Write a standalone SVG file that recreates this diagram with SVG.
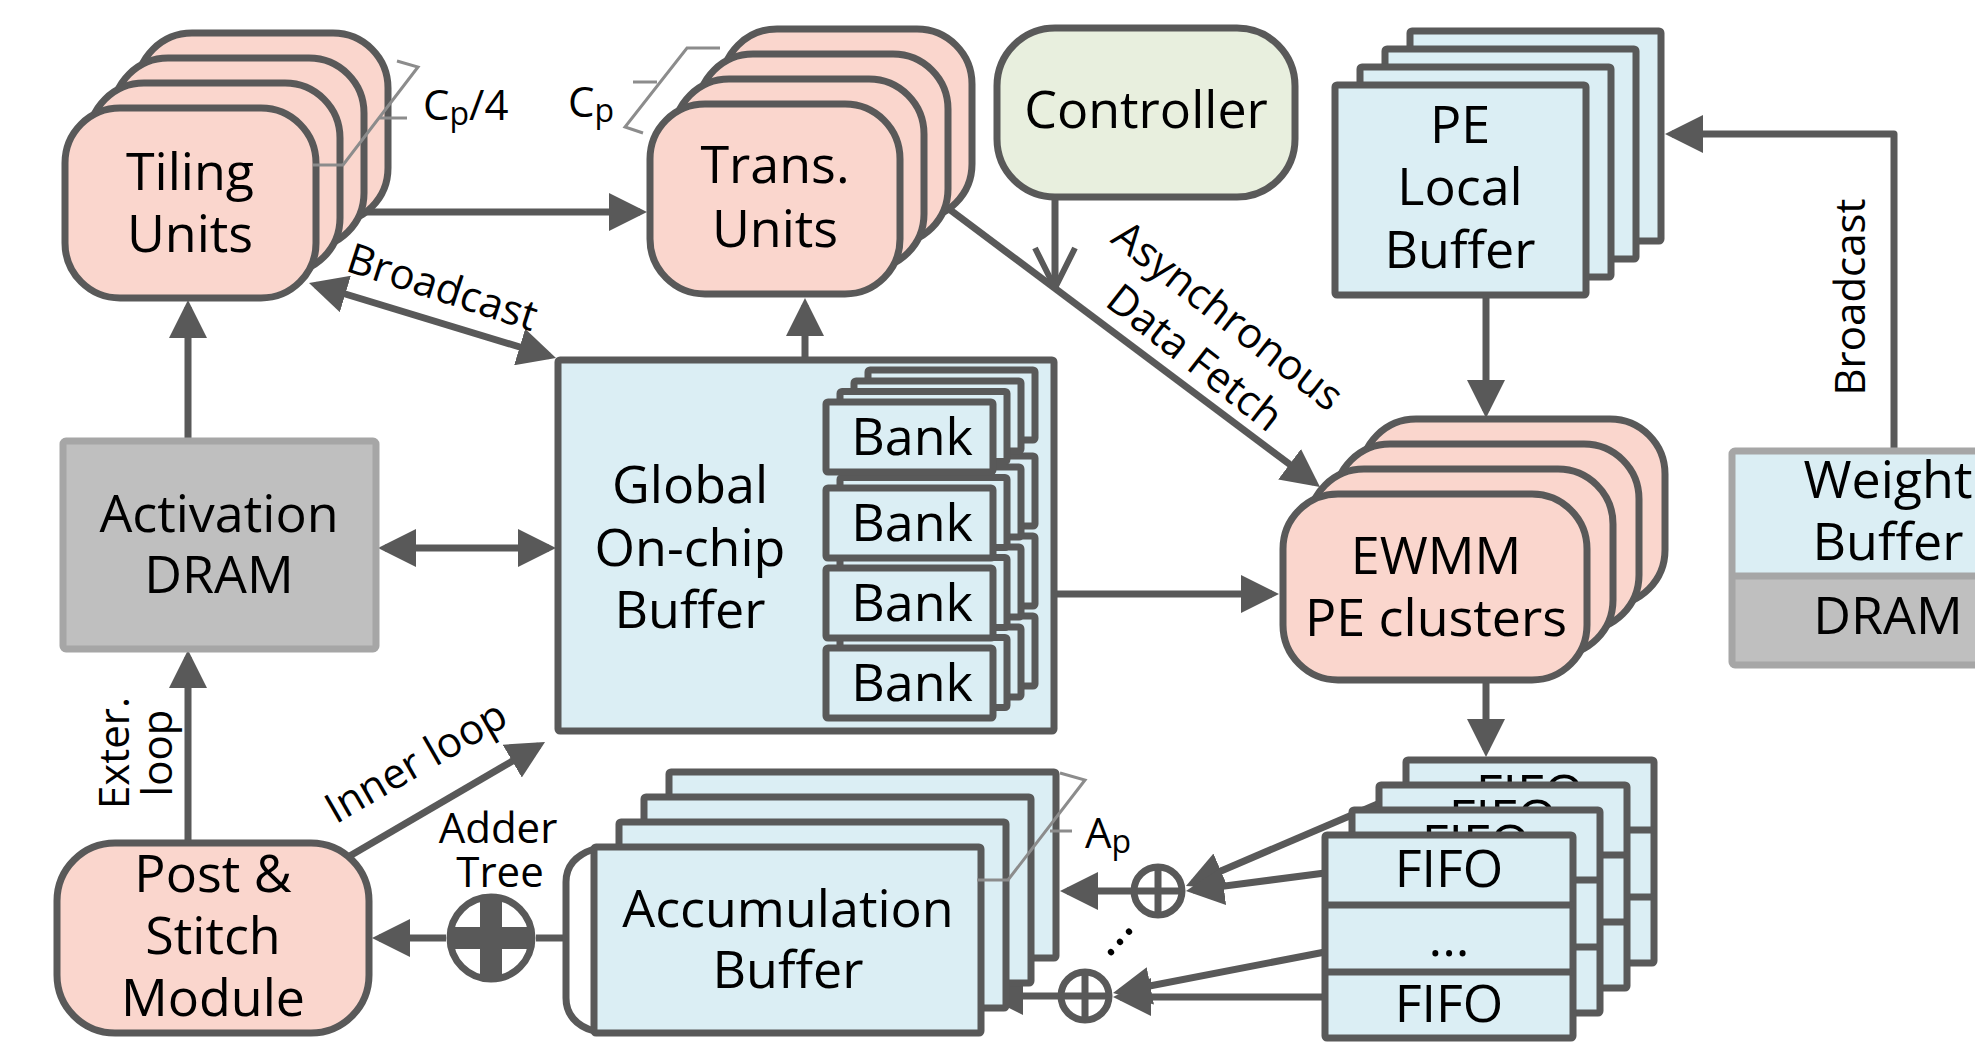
<svg xmlns="http://www.w3.org/2000/svg" width="1975" height="1042" viewBox="0 0 1975 1042">
<style>
.bx{stroke:#595959;stroke-width:7;stroke-linejoin:round}
.pk{fill:#FAD6CD}
.bl{fill:#DBEEF4}
.gn{fill:#E8EFDE}
.gr{fill:#BFBFBF;stroke:#A6A6A6;stroke-width:7}
.ln{stroke:#595959;stroke-width:7;fill:none;stroke-linejoin:round}
.ar{marker-end:url(#ah)}
.br{stroke:#8C8C8C;stroke-width:3;fill:none}
text{font-family:'Open Sans','Noto Sans',sans-serif;fill:#000}
.t{font-size:52px;text-anchor:middle}
.s{font-size:42px}
.m{text-anchor:middle}
</style>
<defs>
<marker id="ah" markerUnits="userSpaceOnUse" viewBox="0 0 38 38" markerWidth="38" markerHeight="38" refX="31" refY="19" orient="auto-start-reverse">
<path d="M0,0 L38,19 L0,38 z" fill="#595959"/>
</marker>
<marker id="av" markerUnits="userSpaceOnUse" viewBox="-4 -4 48 48" markerWidth="48" markerHeight="48" refX="40" refY="20" orient="auto">
<path d="M0,0 L40,20 L0,40" fill="none" stroke="#595959" stroke-width="6" stroke-linejoin="round"/>
</marker>
</defs>
<rect width="1975" height="1042" fill="#fff"/>

<g id="connectors">
<line class="ln ar" x1="188" y1="441" x2="188" y2="307"/>
<line class="ln ar" x1="188" y1="843" x2="188" y2="657"/>
<line class="ln ar" x1="385" y1="548" x2="549" y2="548" marker-start="url(#ah)"/>
<line class="ln ar" x1="316" y1="212" x2="640" y2="212"/>
<line class="ln ar" x1="315.7" y1="285" x2="549.3" y2="356" marker-start="url(#ah)"/>
<line class="ln ar" x1="805" y1="360" x2="805" y2="305"/>
<line class="ln ar" x1="949" y1="209" x2="1314.4" y2="482.8"/>
<line class="ln" x1="1055" y1="197" x2="1055" y2="288" marker-end="url(#av)"/>
<line class="ln ar" x1="1486" y1="298" x2="1486" y2="411"/>
<path class="ln ar" d="M1894,451 V134 H1672"/>
<line class="ln ar" x1="1057" y1="594" x2="1272" y2="594"/>
<line class="ln ar" x1="1486" y1="680" x2="1486" y2="750"/>
<line class="ln ar" x1="1380" y1="803" x2="1192.4" y2="883.2"/>
<line class="ln ar" x1="1325" y1="873" x2="1192.9" y2="890.1"/>
<line class="ln ar" x1="1325" y1="952" x2="1119.9" y2="991.7"/>
<line class="ln ar" x1="1325" y1="997" x2="1120" y2="997"/>
<line class="ln ar" x1="1131" y1="891" x2="1067" y2="891"/>
<line class="ln ar" x1="1058" y1="996" x2="992" y2="996"/>
<line class="ln" x1="566" y1="938" x2="536" y2="938"/>
<line class="ln ar" x1="446" y1="938" x2="379" y2="938"/>
<line class="ln ar" x1="348" y1="857" x2="539" y2="745.5"/>
</g>

<g id="tiling-units">
<rect class="bx pk" x="137" y="33" width="251" height="190" rx="55"/>
<rect class="bx pk" x="113" y="58" width="251" height="190" rx="55"/>
<rect class="bx pk" x="89" y="83" width="251" height="190" rx="55"/>
<rect class="bx pk" x="65" y="108" width="251" height="190" rx="55"/>
<text class="t" x="190" y="190">Tiling</text>
<text class="t" x="190" y="252">Units</text>
<path class="br" d="M313,165 H343 L418,67 L397,61 M378,118 H407"/>
<text class="s" x="423" y="120">C<tspan font-size="32" dy="5">p</tspan><tspan dy="-5">/4</tspan></text>
</g>

<g id="trans-units">
<rect class="bx pk" x="722" y="29" width="250" height="190" rx="55"/>
<rect class="bx pk" x="698" y="54" width="250" height="190" rx="55"/>
<rect class="bx pk" x="674" y="79" width="250" height="190" rx="55"/>
<rect class="bx pk" x="650" y="104" width="250" height="190" rx="55"/>
<text class="t" x="775" y="183">Trans.</text>
<text class="t" x="775" y="247">Units</text>
<path class="br" d="M643,133 L625,127 L687,48 H720 M657,82 H633"/>
<text class="s" x="568" y="117">C<tspan font-size="32" dy="5">p</tspan></text>
</g>

<g id="controller">
<rect class="bx gn" x="997" y="28" width="298" height="169" rx="58"/>
<text class="t" x="1146" y="128">Controller</text>
</g>

<g id="pe-local-buffer">
<rect class="bx bl" x="1410" y="31" width="251" height="210" rx="2"/>
<rect class="bx bl" x="1385" y="49" width="251" height="210" rx="2"/>
<rect class="bx bl" x="1360" y="67" width="251" height="210" rx="2"/>
<rect class="bx bl" x="1335" y="85" width="251" height="210" rx="2"/>
<text class="t" x="1460" y="143">PE</text>
<text class="t" x="1460" y="205">Local</text>
<text class="t" x="1460" y="268">Buffer</text>
</g>

<g id="weight-buffer">
<rect x="1732" y="451" width="280" height="214" fill="#DBEEF4"/>
<rect x="1732" y="576" width="280" height="89" fill="#BFBFBF"/>
<line x1="1732" y1="576" x2="2012" y2="576" stroke="#A6A6A6" stroke-width="7"/>
<rect x="1732" y="451" width="280" height="214" fill="none" stroke="#A6A6A6" stroke-width="7" rx="3"/>
<text class="t" x="1888" y="498">Weight</text>
<text class="t" x="1888" y="560">Buffer</text>
<text class="t" x="1888" y="634">DRAM</text>
<text class="s m" transform="translate(1865,297) rotate(-90)">Broadcast</text>
</g>

<g id="activation-dram">
<rect class="gr" x="63" y="441" width="313" height="208" rx="3"/>
<text class="t" x="219" y="532">Activation</text>
<text class="t" x="219" y="593">DRAM</text>
</g>

<g id="global-buffer">
<rect class="bx bl" x="558" y="360" width="496" height="371" rx="2"/>
<text class="t" x="690" y="503">Global</text>
<text class="t" x="690" y="566">On-chip</text>
<text class="t" x="690" y="628">Buffer</text>
</g>

<g id="banks">
<g transform="translate(826,648)">
<rect class="bx bl" x="42" y="-32" width="167" height="70" rx="2"/>
<rect class="bx bl" x="28" y="-21" width="167" height="70" rx="2"/>
<rect class="bx bl" x="14" y="-10.5" width="167" height="70" rx="2"/>
<rect class="bx bl" x="0" y="0" width="167" height="70" rx="2"/>
<text class="t" x="86" y="53">Bank</text>
</g>
<g transform="translate(826,568)">
<rect class="bx bl" x="42" y="-32" width="167" height="70" rx="2"/>
<rect class="bx bl" x="28" y="-21" width="167" height="70" rx="2"/>
<rect class="bx bl" x="14" y="-10.5" width="167" height="70" rx="2"/>
<rect class="bx bl" x="0" y="0" width="167" height="70" rx="2"/>
<text class="t" x="86" y="53">Bank</text>
</g>
<g transform="translate(826,488)">
<rect class="bx bl" x="42" y="-32" width="167" height="70" rx="2"/>
<rect class="bx bl" x="28" y="-21" width="167" height="70" rx="2"/>
<rect class="bx bl" x="14" y="-10.5" width="167" height="70" rx="2"/>
<rect class="bx bl" x="0" y="0" width="167" height="70" rx="2"/>
<text class="t" x="86" y="53">Bank</text>
</g>
<g transform="translate(826,402)">
<rect class="bx bl" x="42" y="-32" width="167" height="70" rx="2"/>
<rect class="bx bl" x="28" y="-21" width="167" height="70" rx="2"/>
<rect class="bx bl" x="14" y="-10.5" width="167" height="70" rx="2"/>
<rect class="bx bl" x="0" y="0" width="167" height="70" rx="2"/>
<text class="t" x="86" y="53">Bank</text>
</g>
</g>

<g id="ewmm-pe-clusters">
<rect class="bx pk" x="1361" y="419" width="304" height="186" rx="55"/>
<rect class="bx pk" x="1335" y="444" width="304" height="186" rx="55"/>
<rect class="bx pk" x="1309" y="469" width="304" height="186" rx="55"/>
<rect class="bx pk" x="1283" y="494" width="304" height="186" rx="55"/>
<text class="t" x="1436" y="574">EWMM</text>
<text class="t" x="1436" y="636">PE clusters</text>
</g>

<g id="fifos">
<g transform="translate(1406,760)">
<rect class="bx bl" width="248" height="203" rx="2"/>
<path class="ln" d="M0,70 H248 M0,137 H248"/>
<text class="t" x="124" y="52">FIFO</text>
</g>
<g transform="translate(1379,785)">
<rect class="bx bl" width="248" height="203" rx="2"/>
<path class="ln" d="M0,70 H248 M0,137 H248"/>
<text class="t" x="124" y="52">FIFO</text>
</g>
<g transform="translate(1352,810)">
<rect class="bx bl" width="248" height="203" rx="2"/>
<path class="ln" d="M0,70 H248 M0,137 H248"/>
<text class="t" x="124" y="52">FIFO</text>
</g>
<g transform="translate(1325,835)">
<rect class="bx bl" width="248" height="203" rx="2"/>
<path class="ln" d="M0,70 H248 M0,137 H248"/>
<text class="t" x="124" y="52">FIFO</text><text class="t" x="124" y="121">...</text><text class="t" x="124" y="187">FIFO</text>
</g>
</g>

<g id="adders">
<circle class="bx" cx="1158" cy="891" r="24" fill="#fff"/>
<path class="ln" stroke-width="6" d="M1158,867 V915 M1134,891 H1182"/>
<circle class="bx" cx="1085" cy="996" r="24" fill="#fff"/>
<path class="ln" stroke-width="6" d="M1085,972 V1020 M1061,996 H1109"/>
<text font-size="52" class="m" transform="translate(1119,941) rotate(-49)" y="4">...</text>
</g>

<g id="accumulation-buffer">
<rect class="bx bl" x="669" y="772" width="387" height="186" rx="2"/>
<rect class="bx bl" x="644" y="797" width="387" height="186" rx="2"/>
<rect class="bx bl" x="619" y="822" width="387" height="186" rx="2"/>
<rect class="bx bl" x="594" y="847" width="387" height="186" rx="2"/>
<path class="ln" fill="#fff" d="M594,849 C576,855 566,866 566,882 V998 C566,1014 576,1026 594,1031"/>
<text class="t" x="788" y="927">Accumulation</text>
<text class="t" x="788" y="988">Buffer</text>
<path class="br" d="M977,880 H1008 L1085,780 L1060,773 M1050,831 H1072"/>
<text class="s" x="1085" y="848">A<tspan font-size="32" dy="5">p</tspan></text>
</g>

<g id="adder-tree">
<circle cx="491" cy="938" r="41" fill="#fff" stroke="#595959" stroke-width="7"/>
<rect x="480" y="899" width="22" height="78" fill="#595959"/>
<rect x="452" y="927" width="78" height="22" fill="#595959"/>
<text class="s m" x="498" y="843">Adder</text>
<text class="s m" x="500" y="887">Tree</text>
</g>

<g id="post-stitch-module">
<rect class="bx pk" x="57" y="843" width="312" height="190" rx="58"/>
<text class="t" x="213" y="892">Post &amp;</text>
<text class="t" x="213" y="954">Stitch</text>
<text class="t" x="213" y="1016">Module</text>
</g>

<g id="labels">
<text class="s m" transform="translate(438,301) rotate(18)">Broadcast</text>
<text class="s m" transform="translate(423,774) rotate(-30)">Inner loop</text>
<text class="s m" transform="translate(1219,327) rotate(38)">Asynchronous</text>
<text class="s m" transform="translate(1186,369) rotate(38)">Data Fetch</text>
<text class="s m" transform="translate(129,753) rotate(-90)">Exter.</text>
<text class="s m" transform="translate(172,753) rotate(-90)">loop</text>
</g>
</svg>
